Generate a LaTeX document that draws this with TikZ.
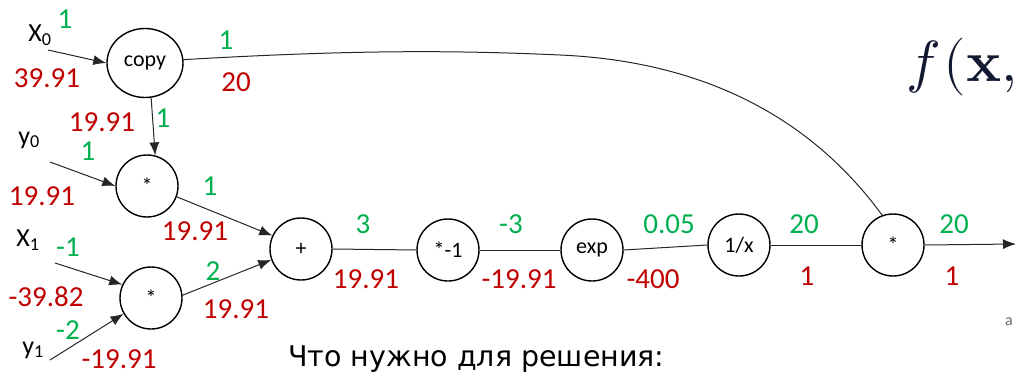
\documentclass[tikz,border=0pt]{standalone}
\usepackage{fontspec}
\setmainfont{Carlito}
\newfontfamily\capfont{DejaVu Sans}
\newfontfamily\lmm{Latin Modern Math}
\usetikzlibrary{arrows.meta,shapes.geometric}
\definecolor{gr}{RGB}{0,176,80}
\definecolor{rd}{RGB}{192,0,0}
\definecolor{navy}{RGB}{20,25,50}
\begin{document}
\begin{tikzpicture}[x=1pt,y=-1pt,
  op/.style={circle,draw,line width=1.4pt,minimum size=62pt,inner sep=0pt,font=\fontsize{22}{24}\selectfont},
  gl/.style={text=gr,inner sep=0pt,font=\fontsize{29}{31}\selectfont},
  rl/.style={text=rd,inner sep=0pt,font=\fontsize{29}{31}\selectfont},
  vl/.style={inner sep=0pt,font=\fontsize{26}{28}\selectfont},
  arr/.style={-{Latex[length=13pt,width=10pt]},line width=1pt,draw=black!85},
  ln/.style={line width=1pt,draw=black!85}]
\useasboundingbox (0,0) rectangle (1016,374);
\clip (0,0) rectangle (1016,374);
% operation nodes
\node[op,ellipse,minimum width=76pt,minimum height=69pt] (cp) at (145,63) {copy};
\node[op] (tm) at (147,186) {*};
\node[op] (bm) at (151,298) {*};
\node[op] (pl) at (301,249) {+};
\node[op] (neg) at (448,250) {*-1};
\node[op] (ex) at (592,250) {exp};
\node[op] (inv) at (739,245) {1/x};
\node[op] (fm) at (893,245) {*};
% input labels
\node[vl] (x0) at (40,35) {X\textsubscript{0}};
\node[vl] (y0) at (29,140) {y\textsubscript{0}};
\node[vl] (x1) at (28,240) {X\textsubscript{1}};
\node[vl] (y1) at (33,350) {y\textsubscript{1}};
% free ends
\coordinate (sx0) at (48,50);
\coordinate (sy0) at (50,162);
\coordinate (sx1) at (55,263);
\coordinate (sy1) at (50,360);
\coordinate (out) at (1016,244);
\coordinate (bend) at (560,55);
% connectors
\draw[arr] (sx0) -- (cp.west);
\draw[arr] (sy0) -- (tm.west);
\draw[arr] (sx1) -- (bm.155);
\draw[arr] (sy1) -- (bm.210);
\draw[arr] (cp.-80) -- (tm.75);
\draw[arr] (tm.-20) -- (pl.155);
\draw[arr] (bm.5) -- (pl.200);
\draw[ln] (pl.east) -- (neg.west);
\draw[ln] (neg.east) -- (ex.west);
\draw[ln] (ex.east) -- (inv.west);
\draw[ln] (inv.east) -- (fm.west);
\draw[arr] (fm.east) -- (out);
\draw[ln] (cp.5) .. controls (350,50) and (450,50) .. (bend) .. controls (720,62) and (820,130) .. (fm.110);
% values and gradients
\node[gl] at (65,19) {1};
\node[rl] at (47,78) {39.91};
\node[gl] at (226,40) {1};
\node[rl] at (236,82) {20};
\node[rl] at (102,122) {19.91};
\node[gl] at (163,118) {1};
\node[gl] at (88,151) {1};
\node[rl] at (42,196) {19.91};
\node[gl] at (210,186) {1};
\node[rl] at (195,231) {19.91};
\node[gl] at (68,247) {-1};
\node[rl] at (46,297) {-39.82};
\node[gl] at (213,271) {2};
\node[rl] at (236,309) {19.91};
\node[gl] at (68,330) {-2};
\node[rl] at (119,359) {-19.91};
\node[gl] at (363,224) {3};
\node[rl] at (366,279) {19.91};
\node[gl] at (511,224) {-3};
\node[rl] at (519,279) {-19.91};
\node[gl] at (669,224) {0.05};
\node[rl] at (653,279) {-400};
\node[gl] at (804,224) {20};
\node[rl] at (807,276) {1};
\node[gl] at (954,224) {20};
\node[rl] at (952,276) {1};
% formula fragment and caption
\node[anchor=base west,inner sep=0pt,text=navy,font=\lmm\fontsize{58}{60}\selectfont] (fx) at (906,82) {𝑓\hspace{9pt}(𝐱,};
\node[anchor=west,inner sep=0pt,text=black!60,font=\fontsize{16}{18}\selectfont] (afrag) at (1005,322) {a};
\node[anchor=base west,inner sep=0pt,font=\capfont\fontsize{28.5}{30}\selectfont] (cap) at (288,366) {Что нужно для решения:};
\end{tikzpicture}
\end{document}
